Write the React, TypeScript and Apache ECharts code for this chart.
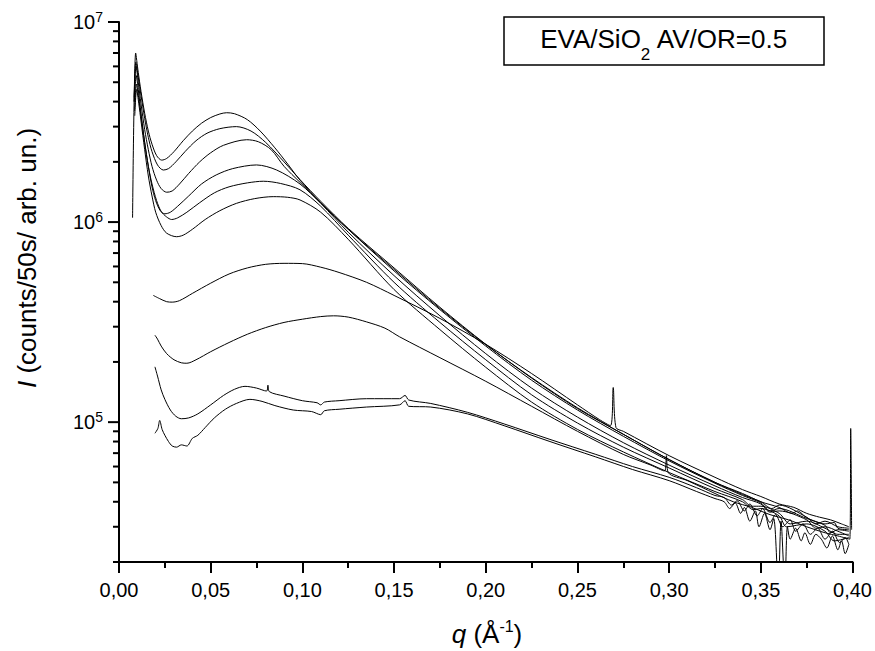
import React, { useEffect, useRef } from 'react';
import * as echarts from 'echarts';

const FONT = '"Liberation Sans", Arial, Helvetica, sans-serif';

// q (1/Å) vs I (counts/50s)
const curveA: [number, number][] = [[0.0074,1.05e6],[0.0091,7.0e6],[0.0105,5.6e6],[0.012,4.5e6],[0.014,3.5e6],[0.016,2.85e6],[0.018,2.45e6],[0.0205,2.15e6],[0.0233,2.04e6],[0.026,2.08e6],[0.03,2.25e6],[0.035,2.55e6],[0.04,2.85e6],[0.045,3.12e6],[0.05,3.33e6],[0.055,3.47e6],[0.0587,3.52e6],[0.063,3.48e6],[0.07,3.25e6],[0.077,2.85e6],[0.085,2.35e6],[0.092,1.95e6],[0.0987,1.62e6],[0.11,1.25e6],[0.125,9.2e5],[0.15,5.8e5],[0.175,3.7e5],[0.2,2.44e5],[0.225,1.67e5],[0.25,1.18e5],[0.275,8.7e4],[0.3,6.5e4],[0.325,5.0e4],[0.34,4.4e4],[0.35,4.0e4],[0.36,3.75e4],[0.367,3.5e4],[0.37,3.6e4],[0.375,3.33e4],[0.385,3.1e4],[0.39,3.15e4],[0.392,2.95e4],[0.398,2.9e4]];
const curveB: [number, number][] = [[0.0082,4.0e6],[0.0092,6.3e6],[0.0105,5.3e6],[0.012,4.3e6],[0.014,3.3e6],[0.016,2.65e6],[0.018,2.25e6],[0.021,1.93e6],[0.0242,1.82e6],[0.027,1.85e6],[0.031,2.0e6],[0.036,2.25e6],[0.042,2.55e6],[0.048,2.78e6],[0.055,2.93e6],[0.064,3.0e6],[0.072,2.85e6],[0.08,2.5e6],[0.09,2.0e6],[0.0987,1.63e6],[0.11,1.27e6],[0.125,9.3e5],[0.15,5.9e5],[0.175,3.75e5],[0.2,2.45e5],[0.225,1.66e5],[0.25,1.17e5],[0.275,8.7e4],[0.3,6.5e4],[0.325,5.0e4],[0.34,4.35e4],[0.35,4.0e4],[0.356,3.7e4],[0.36,3.85e4],[0.375,3.35e4],[0.38,3.1e4],[0.385,3.2e4],[0.392,3.0e4],[0.398,2.95e4]];
const curveC: [number, number][] = [[0.0083,4.2e6],[0.0093,6.0e6],[0.0105,5.0e6],[0.012,3.9e6],[0.014,2.9e6],[0.016,2.3e6],[0.018,1.9e6],[0.0205,1.62e6],[0.023,1.47e6],[0.026,1.41e6],[0.029,1.43e6],[0.033,1.55e6],[0.038,1.75e6],[0.044,2.0e6],[0.05,2.22e6],[0.057,2.42e6],[0.0696,2.58e6],[0.076,2.52e6],[0.083,2.3e6],[0.09,1.9e6],[0.0987,1.58e6],[0.11,1.25e6],[0.125,9.2e5],[0.15,5.7e5],[0.175,3.65e5],[0.2,2.4e5],[0.225,1.62e5],[0.25,1.15e5],[0.275,8.5e4],[0.3,6.4e4],[0.325,4.95e4],[0.34,4.3e4],[0.35,3.95e4],[0.355,3.6e4],[0.36,3.7e4],[0.375,3.3e4],[0.385,3.05e4],[0.388,2.8e4],[0.392,2.9e4],[0.398,2.85e4]];
const curveD: [number, number][] = [[0.0084,4.0e6],[0.0094,5.4e6],[0.0105,4.6e6],[0.012,3.5e6],[0.014,2.5e6],[0.016,1.9e6],[0.018,1.5e6],[0.02,1.28e6],[0.0225,1.14e6],[0.025,1.1e6],[0.028,1.12e6],[0.032,1.2e6],[0.038,1.35e6],[0.045,1.55e6],[0.053,1.72e6],[0.062,1.85e6],[0.075,1.93e6],[0.086,1.82e6],[0.0987,1.55e6],[0.11,1.24e6],[0.125,8.9e5],[0.15,5.4e5],[0.175,3.4e5],[0.2,2.2e5],[0.225,1.48e5],[0.25,1.06e5],[0.275,7.9e4],[0.3,6.1e4],[0.325,4.8e4],[0.34,4.2e4],[0.35,3.9e4],[0.355,3.55e4],[0.36,3.6e4],[0.375,3.25e4],[0.38,2.95e4],[0.385,3.0e4],[0.392,2.85e4],[0.398,2.7e4]];
const curveE: [number, number][] = [[0.0085,3.6e6],[0.0095,4.9e6],[0.0107,4.2e6],[0.012,3.4e6],[0.014,2.5e6],[0.016,1.9e6],[0.018,1.55e6],[0.0205,1.28e6],[0.023,1.13e6],[0.026,1.06e6],[0.0287,1.03e6],[0.032,1.05e6],[0.037,1.12e6],[0.044,1.25e6],[0.052,1.4e6],[0.06,1.5e6],[0.07,1.57e6],[0.0787,1.6e6],[0.088,1.56e6],[0.0987,1.45e6],[0.11,1.2e6],[0.125,8.6e5],[0.15,5.0e5],[0.175,3.15e5],[0.2,2.05e5],[0.225,1.37e5],[0.25,9.9e4],[0.275,7.5e4],[0.3,5.9e4],[0.325,4.65e4],[0.34,4.1e4],[0.345,3.8e4],[0.35,3.8e4],[0.36,3.5e4],[0.366,3.1e4],[0.375,3.2e4],[0.385,2.95e4],[0.392,2.75e4],[0.398,2.75e4]];
const curveF: [number, number][] = [[0.0086,3.4e6],[0.0096,4.6e6],[0.0108,3.9e6],[0.012,3.2e6],[0.014,2.3e6],[0.016,1.7e6],[0.018,1.35e6],[0.02,1.12e6],[0.023,9.6e5],[0.026,8.8e5],[0.0314,8.45e5],[0.035,8.6e5],[0.04,9.2e5],[0.047,1.03e6],[0.055,1.14e6],[0.064,1.24e6],[0.074,1.31e6],[0.0841,1.34e6],[0.092,1.33e6],[0.0987,1.29e6],[0.11,1.12e6],[0.125,8.2e5],[0.15,4.6e5],[0.175,2.9e5],[0.2,1.88e5],[0.225,1.26e5],[0.25,9.2e4],[0.275,7.1e4],[0.3,5.6e4],[0.325,4.5e4],[0.34,4.0e4],[0.346,3.65e4],[0.35,3.7e4],[0.36,3.4e4],[0.364,3.0e4],[0.375,3.1e4],[0.385,2.85e4],[0.39,2.55e4],[0.398,2.65e4]];
const curveG: [number, number][] = [[0.0187,4.3e5],[0.022,4.15e5],[0.026,4.0e5],[0.029,3.98e5],[0.033,4.05e5],[0.04,4.4e5],[0.05,4.95e5],[0.06,5.5e5],[0.07,5.9e5],[0.08,6.15e5],[0.09,6.22e5],[0.1,6.2e5],[0.11,5.95e5],[0.12,5.6e5],[0.135,5.0e5],[0.15,4.3e5],[0.175,3.3e5],[0.2,2.45e5],[0.225,1.75e5],[0.25,1.22e5],[0.262,1.03e5],[0.268,9.6e4],[0.2695,1.49e5],[0.271,9.4e4],[0.275,9.0e4],[0.3,6.8e4],[0.325,5.3e4],[0.34,4.6e4],[0.35,4.25e4],[0.36,3.9e4],[0.368,3.75e4],[0.375,3.5e4],[0.382,3.35e4],[0.388,3.25e4],[0.394,3.1e4],[0.398,3.0e4]];
const curveH: [number, number][] = [[0.0196,2.72e5],[0.021,2.6e5],[0.023,2.4e5],[0.026,2.2e5],[0.03,2.05e5],[0.034,1.98e5],[0.037,1.97e5],[0.042,2.05e5],[0.05,2.25e5],[0.06,2.5e5],[0.07,2.75e5],[0.08,2.97e5],[0.09,3.15e5],[0.1,3.27e5],[0.11,3.37e5],[0.117,3.4e5],[0.125,3.35e5],[0.135,3.17e5],[0.145,2.95e5],[0.153,2.67e5],[0.175,2.1e5],[0.2,1.6e5],[0.225,1.2e5],[0.25,9.0e4],[0.275,6.9e4],[0.29,6.1e4],[0.2975,5.7e4],[0.2985,6.8e4],[0.2995,5.6e4],[0.31,5.1e4],[0.325,4.4e4],[0.335,4.0e4],[0.345,3.75e4],[0.355,3.45e4],[0.365,3.25e4],[0.375,3.0e4],[0.385,2.8e4],[0.392,2.7e4],[0.3985,2.6e4],[0.399,9.3e4],[0.3995,2.9e4]];
const curveI: [number, number][] = [[0.0196,1.89e5],[0.021,1.7e5],[0.023,1.45e5],[0.025,1.3e5],[0.028,1.15e5],[0.031,1.07e5],[0.034,1.04e5],[0.038,1.05e5],[0.043,1.1e5],[0.05,1.22e5],[0.057,1.36e5],[0.063,1.46e5],[0.0687,1.51e5],[0.075,1.48e5],[0.0805,1.43e5],[0.0812,1.53e5],[0.082,1.42e5],[0.09,1.35e5],[0.1,1.28e5],[0.108,1.25e5],[0.11,1.22e5],[0.112,1.26e5],[0.12,1.28e5],[0.135,1.31e5],[0.153,1.31e5],[0.156,1.36e5],[0.158,1.29e5],[0.17,1.24e5],[0.19,1.12e5],[0.21,9.8e4],[0.235,8.2e4],[0.26,6.9e4],[0.28,6.0e4],[0.3,5.3e4],[0.315,4.7e4],[0.325,4.3e4],[0.33,4.2e4],[0.334,3.85e4],[0.337,4.05e4],[0.341,3.6e4],[0.344,3.9e4],[0.348,3.4e4],[0.351,3.7e4],[0.355,3.15e4],[0.358,3.45e4],[0.362,3.0e4],[0.366,3.25e4],[0.369,2.85e4],[0.373,3.1e4],[0.377,2.75e4],[0.381,2.95e4],[0.385,2.6e4],[0.389,2.85e4],[0.393,2.5e4],[0.396,2.65e4],[0.398,2.45e4]];
const curveJ: [number, number][] = [[0.0196,8.8e4],[0.0212,9.3e4],[0.0222,1.02e5],[0.0235,9.2e4],[0.025,8.6e4],[0.027,8.0e4],[0.029,7.6e4],[0.0314,7.5e4],[0.034,7.7e4],[0.037,7.6e4],[0.04,8.3e4],[0.043,8.6e4],[0.047,9.4e4],[0.052,1.05e5],[0.058,1.16e5],[0.064,1.24e5],[0.0714,1.3e5],[0.078,1.27e5],[0.085,1.21e5],[0.095,1.15e5],[0.105,1.13e5],[0.11,1.09e5],[0.112,1.14e5],[0.12,1.16e5],[0.135,1.19e5],[0.153,1.22e5],[0.156,1.28e5],[0.158,1.2e5],[0.17,1.19e5],[0.19,1.1e5],[0.21,9.6e4],[0.235,8.0e4],[0.26,6.7e4],[0.28,5.8e4],[0.3,5.1e4],[0.315,4.5e4],[0.325,4.15e4],[0.33,4.0e4],[0.333,3.7e4],[0.336,3.95e4],[0.339,3.5e4],[0.341,3.75e4],[0.344,3.2e4],[0.347,3.6e4],[0.349,3.0e4],[0.352,3.5e4],[0.355,2.9e4],[0.357,3.3e4],[0.3595,1.5e4],[0.361,3.2e4],[0.3631,1.5e4],[0.3645,3.0e4],[0.366,2.6e4],[0.369,2.95e4],[0.372,2.55e4],[0.374,2.8e4],[0.377,2.45e4],[0.38,2.75e4],[0.383,2.6e4],[0.386,2.35e4],[0.389,2.7e4],[0.392,2.3e4],[0.394,2.55e4],[0.396,2.2e4],[0.398,2.45e4]];

const curves = [curveA, curveB, curveC, curveD, curveE, curveF, curveG, curveH, curveI, curveJ];

const yMajorTicks = [1e5, 1e6, 1e7];
const yMinorTicks = [2e4, 3e4, 4e4, 5e4, 6e4, 7e4, 8e4, 9e4, 2e5, 3e5, 4e5, 5e5, 6e5, 7e5, 8e5, 9e5, 2e6, 3e6, 4e6, 5e6, 6e6, 7e6, 8e6, 9e6];

const legendText = '{a|EVA/SiO}{sub|2}{a| AV/OR=0.5}';
const xTitle = '{i|q}{n| (Å}{s|-1}{n|)}';
const yTitle = '{i|I}{n| (counts/50s/ arb. un.)}';

function tickSeries(values: number[], len: number) {
  return {
    type: 'custom',
    silent: true,
    clip: false,
    z: 5,
    data: values.map((v) => [0, v]),
    renderItem: (_p: any, api: any) => {
      const pt = api.coord([api.value(0), api.value(1)]);
      return {
        type: 'line',
        shape: { x1: pt[0] - len, y1: pt[1], x2: pt[0], y2: pt[1] },
        style: { stroke: '#000', lineWidth: 2 },
      };
    },
  };
}

export default function App() {
  const ref = useRef<HTMLDivElement>(null);
  useEffect(() => {
    if (!ref.current) return;
    const chart = echarts.init(ref.current, undefined, { renderer: 'svg' });
    const option: any = {
      animation: false,
      backgroundColor: '#fff',
      grid: { left: 119, right: 22, top: 22, bottom: 89 },
      xAxis: {
        type: 'value',
        min: 0,
        max: 0.4,
        interval: 0.05,
        axisLine: { onZero: false, lineStyle: { color: '#000', width: 2 } },
        axisTick: { length: 11, lineStyle: { color: '#000', width: 2 } },
        minorTick: { show: true, splitNumber: 2, length: 6, lineStyle: { color: '#000', width: 2 } },
        splitLine: { show: false },
        minorSplitLine: { show: false },
        axisLabel: {
          margin: 18,
          fontSize: 20,
          color: '#000',
          fontFamily: FONT,
          formatter: (v: number) => v.toFixed(2).replace('.', ','),
        },
      },
      yAxis: {
        type: 'log',
        logBase: 10,
        min: 2e4,
        max: 1e7,
        axisLine: { show: true, onZero: false, lineStyle: { color: '#000', width: 2 } },
        axisTick: { show: false },
        splitLine: { show: false },
        axisLabel: {
          margin: 16,
          color: '#000',
          fontFamily: FONT,
          formatter: (v: number) => {
            const l = Math.log10(v);
            const e = Math.round(l);
            if (Math.abs(l - e) > 1e-6) return '';
            return `{b|10}{s|${e}}`;
          },
          rich: {
            b: { fontSize: 20, lineHeight: 25, fontFamily: FONT, color: '#000' },
            s: { fontSize: 14, verticalAlign: 'top', fontFamily: FONT, color: '#000' },
          },
        },
      },
      series: [
        ...curves.map((c, i) => ({
          type: 'line',
          name: 'c' + i,
          data: c,
          showSymbol: false,
          symbol: 'none',
          smooth: 0.3,
          lineStyle: { color: '#000', width: 1 },
          z: 2,
        })),
        tickSeries(yMajorTicks, 11),
        tickSeries(yMinorTicks, 6),
      ],
      graphic: [
        {
          type: 'rect',
          shape: { x: 504, y: 17, width: 320, height: 48 },
          style: { fill: '#fff', stroke: '#000', lineWidth: 1.5 },
          z: 10,
        },
        {
          type: 'text',
          x: 664,
          y: 39,
          z: 11,
          style: {
            text: legendText,
            align: 'center',
            verticalAlign: 'middle',
            textAlign: 'center',
            textVerticalAlign: 'middle',
            fill: '#000',
            rich: {
              a: { fontSize: 26, lineHeight: 48, fontFamily: FONT, fill: '#000', color: '#000' },
              sub: { fontSize: 17, verticalAlign: 'bottom', fontFamily: FONT, fill: '#000', color: '#000' },
            },
          },
        },
        {
          type: 'text',
          x: 487,
          y: 634,
          z: 11,
          style: {
            text: xTitle,
            align: 'center',
            verticalAlign: 'middle',
            textAlign: 'center',
            textVerticalAlign: 'middle',
            fill: '#000',
            rich: {
              i: { fontSize: 26, fontStyle: 'italic', lineHeight: 32, fontFamily: FONT, color: '#000' },
              n: { fontSize: 26, lineHeight: 32, fontFamily: FONT, color: '#000' },
              s: { fontSize: 16, verticalAlign: 'top', fontFamily: FONT, color: '#000' },
            },
          },
        },
        {
          type: 'text',
          x: 27,
          y: 258,
          rotation: Math.PI / 2,
          z: 11,
          style: {
            text: yTitle,
            align: 'center',
            verticalAlign: 'middle',
            textAlign: 'center',
            textVerticalAlign: 'middle',
            fill: '#000',
            rich: {
              i: { fontSize: 26, fontStyle: 'italic', fontFamily: FONT, color: '#000' },
              n: { fontSize: 26, fontFamily: FONT, color: '#000' },
            },
          },
        },
      ],
    };
    chart.setOption(option);
    return () => chart.dispose();
  }, []);
  return (
    <div
      ref={ref}
      style={{ position: 'absolute', left: 0, top: 0, width: 875, height: 651, background: '#fff' }}
    />
  );
}
